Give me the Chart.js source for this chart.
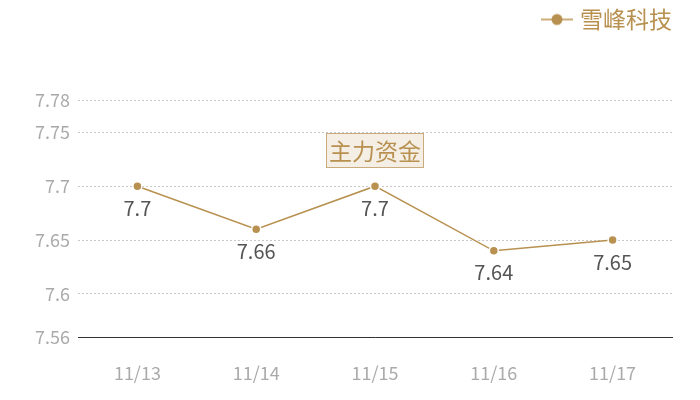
<!DOCTYPE html>
<html>
<head>
<meta charset="utf-8">
<script src="https://cdn.jsdelivr.net/npm/chart.js@4.4.0/dist/chart.umd.min.js"></script>
<style>
  html, body { margin: 0; padding: 0; background: #fff; }
  #wrap { width: 700px; height: 400px; }
</style>
</head>
<body>
<div id="wrap"><canvas id="lineChart"></canvas></div>
<script>
// Datos del gráfico
const categories = ['11/13', '11/14', '11/15', '11/16', '11/17'];
const seriesName = '雪峰科技';
const seriesValues = [7.7, 7.66, 7.7, 7.64, 7.65];
const yTickValues = [7.56, 7.6, 7.65, 7.7, 7.75, 7.78];
const titleText = '主力资金';

const GOLD = '#b8904f';
const FONT = '"Noto Sans CJK SC", "Noto Sans", sans-serif';

// Icono de leyenda: línea con punto
function legendIcon() {
    const c = document.createElement('canvas');
    c.width = 32; c.height = 14;
    const g = c.getContext('2d');
    g.strokeStyle = GOLD;
    g.lineWidth = 1.5;
    g.beginPath(); g.moveTo(0, 7); g.lineTo(32, 7); g.stroke();
    g.fillStyle = GOLD;
    g.beginPath(); g.arc(16, 7, 5.5, 0, Math.PI * 2); g.fill();
    return c;
}

// Etiquetas de valor debajo de cada punto
const valueLabels = {
    id: 'valueLabels',
    afterDatasetsDraw(chart) {
        const { ctx } = chart;
        const meta = chart.getDatasetMeta(0);
        ctx.save();
        ctx.font = '20px ' + FONT;
        ctx.fillStyle = '#555';
        ctx.textAlign = 'center';
        ctx.textBaseline = 'middle';
        meta.data.forEach((pt, i) => {
            ctx.fillText(String(seriesValues[i]), pt.x, pt.y + 22);
        });
        ctx.restore();
    }
};

// Caja de título en el centro del área
const titleBox = {
    id: 'titleBox',
    afterDraw(chart) {
        const { ctx, chartArea } = chart;
        ctx.save();
        ctx.font = '23px ' + FONT;
        const w = ctx.measureText(titleText).width + 6;
        const h = 35;
        const cx = (chartArea.left + chartArea.right) / 2;
        const y = 133;
        ctx.fillStyle = '#f4eee5';
        ctx.fillRect(cx - w / 2, y, w, h);
        ctx.strokeStyle = '#c9ab7d';
        ctx.lineWidth = 1;
        ctx.strokeRect(cx - w / 2 + 0.5, y + 0.5, w - 1, h - 1);
        ctx.fillStyle = GOLD;
        ctx.textAlign = 'center';
        ctx.textBaseline = 'middle';
        ctx.fillText(titleText, cx, y + h / 2 + 1);
        ctx.restore();
    }
};

const icon = legendIcon();

new Chart(document.getElementById('lineChart'), {
    type: 'line',
    data: {
        labels: categories,
        datasets: [{
            label: seriesName,
            data: seriesValues,
            borderColor: GOLD,
            backgroundColor: GOLD,
            borderWidth: 1.5,
            pointRadius: 4.5,
            pointBorderWidth: 1.5,
            pointBorderColor: '#fff',
            pointBackgroundColor: GOLD,
            tension: 0,
            fill: false
        }]
    },
    options: {
        responsive: true,
        maintainAspectRatio: false,
        animation: false,
        layout: { padding: { top: 8, right: 28, left: 0, bottom: 0 } },
        plugins: {
            legend: {
                position: 'top',
                align: 'end',
                labels: {
                    usePointStyle: true,
                    pointStyle: icon,
                    color: GOLD,
                    font: { size: 23, family: FONT },
                    padding: 0,
                    boxWidth: 32,
                    boxHeight: 14,
                    generateLabels(chart) {
                        return [{
                            text: seriesName,
                            fontColor: GOLD,
                            pointStyle: icon,
                            datasetIndex: 0,
                            hidden: false,
                            lineWidth: 0
                        }];
                    }
                }
            },
            tooltip: { enabled: false }
        },
        scales: {
            x: {
                offset: true,
                afterFit(axis) { axis.height = 63; },
                grid: { display: false, drawTicks: false },
                border: { display: true, color: '#333', width: 1 },
                ticks: {
                    color: '#aaa',
                    font: { size: 18, family: FONT },
                    padding: 25
                }
            },
            y: {
                min: 7.56,
                max: 7.78,
                afterBuildTicks(axis) {
                    axis.ticks = yTickValues.map(v => ({ value: v }));
                },
                afterFit(axis) { axis.width = 78; },
                grid: {
                    color: '#c8c8c8',
                    drawTicks: false,
                    lineWidth: 1
                },
                border: { display: false, dash: [2, 2] },
                ticks: {
                    color: '#aaa',
                    font: { size: 18, family: FONT },
                    padding: 8,
                    callback: v => String(v)
                }
            }
        }
    },
    plugins: [valueLabels, titleBox, {
        id: 'legendGap',
        afterInit(chart) {
            const orig = chart.legend.fit;
            chart.legend.fit = function () {
                orig.bind(chart.legend)();
                this.height = 92;
            };
        }
    }]
});
</script>
</body>
</html>
